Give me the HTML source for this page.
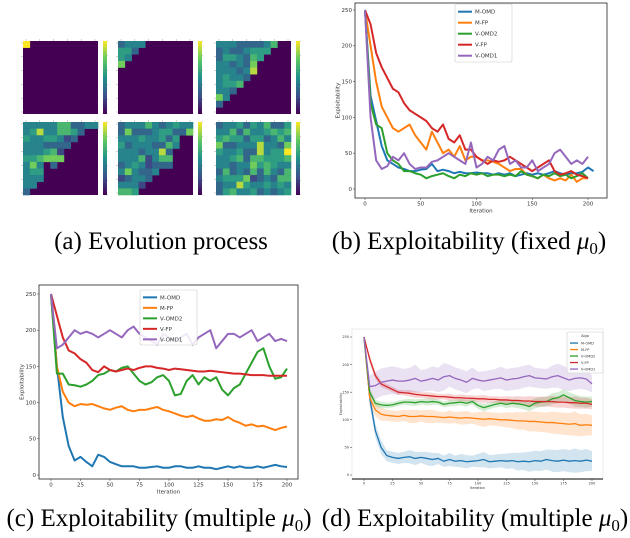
<!DOCTYPE html>
<html><head><meta charset="utf-8">
<style>
body{margin:0;background:#fff;}
svg{display:block;font-family:"DejaVu Sans","Liberation Sans",sans-serif;}
.cap{font-family:"Liberation Serif",serif;font-size:25px;fill:#000;}
</style></head><body>
<svg id="fig" width="630" height="538" viewBox="0 0 630 538">
<text class="cap" x="161" y="249" text-anchor="middle">(a) Evolution process</text>
<text class="cap" x="469" y="249" text-anchor="middle">(b) Exploitability (fixed <tspan font-style="italic">μ</tspan><tspan font-size="17" dy="5">0</tspan><tspan dy="-5">)</tspan></text>
<text class="cap" x="159" y="526" text-anchor="middle">(c) Exploitability (multiple <tspan font-style="italic">μ</tspan><tspan font-size="17" dy="5">0</tspan><tspan dy="-5">)</tspan></text>
<text class="cap" x="475" y="526" text-anchor="middle">(d) Exploitability (multiple <tspan font-style="italic">μ</tspan><tspan font-size="17" dy="5">0</tspan><tspan dy="-5">)</tspan></text>
</svg>
<script>
// ---------- data ----------
const seriesNames=["M-OMD","M-FP","V-OMD2","V-FP","V-OMD1"];
const colors=["#1f77b4","#ff7f0e","#2ca02c","#d62728","#9467bd"];
const xTicks=[0,50,100,150,200];
const xTicksC=[0,25,50,75,100,125,150,175,200];
const yTicks=[0,50,100,150,200,250];
// panel b (every 5 iterations)
const bMOMD=[250,130,95,60,40,35,30,28,25,25,27,28,35,25,27,25,22,24,22,22,23,22,22,20,22,20,22,18,20,22,20,22,20,22,25,22,20,22,22,24,30,25];
const bMFP=[250,200,150,115,100,85,80,85,90,75,65,55,80,65,50,55,45,60,40,45,45,40,40,38,35,30,25,28,28,20,18,15,20,15,12,15,12,20,10,15,15];
const bVOMD2=[250,120,90,85,50,40,35,25,25,22,20,15,18,20,22,18,15,20,18,22,20,22,18,20,20,18,20,18,25,20,18,15,20,18,22,18,20,15,18,22,15];
const bVFP=[250,230,190,170,155,140,135,120,110,105,100,95,85,80,90,70,65,75,55,55,45,40,35,40,38,40,45,40,35,30,25,30,35,40,25,20,22,25,20,18,15];
const bVOMD1=[250,100,40,28,32,45,40,50,35,28,30,30,38,40,45,50,45,40,35,65,30,35,45,40,55,60,35,40,30,30,40,25,30,35,50,55,45,35,40,35,45];
// panel c
const cMOMD=[250,150,80,40,20,25,18,12,28,25,18,15,12,12,12,10,10,11,12,10,10,12,12,10,10,12,10,10,8,10,12,10,12,10,10,12,10,12,14,12,11];
const cMFP=[250,150,115,100,95,98,97,98,95,92,90,93,95,90,88,90,90,92,94,90,88,85,82,80,82,78,75,75,77,76,80,75,72,68,70,67,68,65,62,65,67];
const cVOMD2=[250,140,140,125,124,122,125,130,138,140,145,143,148,150,140,130,125,128,135,138,130,110,112,130,138,125,135,130,135,118,110,120,125,140,155,170,175,150,133,135,147];
const cVFP=[250,220,190,172,168,160,155,145,142,150,145,143,145,147,145,148,150,150,148,147,145,147,146,145,144,143,143,144,143,142,141,140,140,139,138,138,138,137,137,137,137];
const cVOMD1=[250,175,180,190,200,195,198,195,190,195,200,195,190,200,205,195,190,185,180,195,190,185,190,195,180,190,195,200,175,185,195,195,190,195,200,185,190,195,185,188,185];
// panel d means and band half-widths
const dMOMD=[250,140,80,50,35,32,30,32,33,30,32,30,28,30,25,28,25,26,24,25,26,28,24,25,26,25,26,24,25,24,26,25,28,26,25,27,25,26,25,27,25];
const dMFP=[250,140,118,110,108,107,106,108,106,106,107,106,106,105,104,105,104,103,104,103,102,101,102,101,100,100,99,98,98,97,97,96,95,95,94,93,92,93,90,91,90];
const dVOMD2=[250,150,130,127,126,127,130,132,132,131,133,132,133,132,128,130,131,132,130,133,126,122,125,128,130,128,130,129,127,124,130,132,133,138,140,145,140,135,133,132,133];
const dVFP=[250,210,180,165,160,155,150,149,148,146,145,144,143,142,142,141,140,140,139,139,138,138,137,137,136,136,135,135,134,134,133,133,133,133,132,132,131,131,130,130,128];
const dVOMD1=[250,160,162,168,170,172,170,170,172,175,170,172,175,172,178,180,175,172,168,175,172,170,172,174,176,172,174,175,178,180,176,175,174,178,180,176,172,175,176,174,165];
const dBand=[0,15,12,12,10,10,10,10,12,12,10,12,12,10,10,12,10,12,12,10,12,14,12,12,12,14,14,16,16,18,18,18,18,20,20,20,20,22,20,20,18];
const dBandV1=[0,20,25,25,25,25,25,22,22,25,20,20,22,22,25,20,20,20,20,20,15,18,18,18,20,20,20,20,20,20,18,18,18,20,22,22,20,20,20,20,15];
// heatmaps (digits 0-9 intensity, 11x11)
const heat1=["90000000000","00000000000","00000000000","00000000000","00000000000","00000000000","00000000000","00000000000","00000000000","00000000000","00000000000"];
const heat2=["34440000000","5530000000","540000000","7000000000","0","0","0","0","0","0","0"];
const heat3=["44433334600","3433455500","3554365000","443437000","44434800","4544300","455600","44300","7400","30","0"];
const heat4=["44444663344","45844665300","5445542300","4443333000","4445620000","5567770000","4740300000","4550000000","4440000000","4400000000","3000000000"];
const heat5=["34446434544","37333455337","44454453500","53444336400","44434483000","44462466000","34542333000","47433400000","23443000000","44420000000","66500000000"];
const heat6=["34453546335","44636445656","56553553464","73344484437","54453384559","44563665556","44344756544","36343636436","45557234366","34485445454","35644534345"];
</script>
<script>
const NS="http://www.w3.org/2000/svg";
const svg=document.getElementById('fig');
function mk(tag,attrs,parent){const e=document.createElementNS(NS,tag);for(const k in attrs)e.setAttribute(k,attrs[k]);(parent||svg).appendChild(e);return e;}
function viridis(t){const st=[[68,1,84],[59,82,139],[33,145,140],[94,201,98],[253,231,37]];
 t=Math.max(0,Math.min(1,t));const s=t*4,i=Math.min(3,Math.floor(s)),f=s-i;
 const c=st[i].map((v,j)=>Math.round(v+(st[i+1][j]-v)*f));return `rgb(${c})`;}

// ---- heatmaps ----
const heats=[heat1,heat2,heat3,heat4,heat5,heat6];
const hpos=[[23,41],[118,41],[216,41],[23,122],[118,122],[216,122]];
heats.forEach((m,k)=>{
 const [x0,y0]=hpos[k],W=75,H=73,n=11,cw=W/n,ch=H/n;
 const g=mk('g',{});
 
 
 mk('rect',{x:x0,y:y0,width:W,height:H,fill:viridis(0)},g);
 m.forEach((row,r)=>{for(let c=0;c<row.length;c++){const v=+row[c];if(!v)continue;
  const cell=mk('rect',{x:x0+c*cw,y:y0+r*ch,width:cw+0.3,height:ch+0.3,fill:viridis(v/9)},g);
  
  }});
 const cb=mk('defs',{},g);const lg=mk('linearGradient',{id:'cb'+k,x1:0,y1:1,x2:0,y2:0},cb);
 [0,.25,.5,.75,1].forEach(o=>mk('stop',{offset:o,'stop-color':viridis(o)},lg));
 const bar=mk('rect',{x:x0+W+5,y:y0,width:4,height:H,fill:`url(#cb${k})`},g);
 
 
 for(let i=0;i<6;i++){mk('line',{x1:x0+W+9,x2:x0+W+10,y1:y0+i*H/5,y2:y0+i*H/5,stroke:'#888','stroke-width':.4},g);
  mk('line',{x1:x0-2,x2:x0,y1:y0+2+i*(H-4)/5,y2:y0+2+i*(H-4)/5,stroke:'#888','stroke-width':.4},g);
  mk('line',{x1:x0+3+i*(W-6)/5,x2:x0+3+i*(W-6)/5,y1:y0-2,y2:y0,stroke:'#888','stroke-width':.4},g);}
});

// ---- line panels ----
function panel(cfg){
 const g=mk('g',{});
 
 
 const X=v=>cfg.x0+(v-0)/(200)*(cfg.x200-cfg.x0);
 const Y=v=>cfg.y0+(v)/(250)*(cfg.y250-cfg.y0);
 const frame=mk('rect',{x:cfg.L,y:cfg.T,width:cfg.R-cfg.L,height:cfg.B-cfg.T,fill:'none',stroke:cfg.frame,'stroke-width':.8},g);
 
 
 if(cfg.bottomBlack)mk('line',{x1:cfg.L,x2:cfg.R,y1:cfg.B,y2:cfg.B,stroke:'#000','stroke-width':1},g);
 cfg.xt.forEach(t=>{mk('line',{x1:X(t),x2:X(t),y1:cfg.B,y2:cfg.B+2,stroke:'#333','stroke-width':.5},g);
  const tx=mk('text',{x:X(t),y:cfg.B+2+cfg.fs,'text-anchor':'middle','font-size':cfg.fs,fill:'#333'},g);tx.textContent=t;
  
  });
 yTicks.forEach(t=>{mk('line',{x1:cfg.L-2,x2:cfg.L,y1:Y(t),y2:Y(t),stroke:'#333','stroke-width':.5},g);
  const tx=mk('text',{x:cfg.L-3,y:Y(t)+cfg.fs*0.35,'text-anchor':'end','font-size':cfg.fs,fill:'#333'},g);tx.textContent=t;
  
  });
 const xl=mk('text',{x:(cfg.L+cfg.R)/2,y:cfg.B+2+cfg.fs*2.3,'text-anchor':'middle','font-size':cfg.fs,fill:'#333'},g);xl.textContent='Iteration';
 
 
 const yx=cfg.L-cfg.fs*2.8,yy=(cfg.T+cfg.B)/2;
 const yl=mk('text',{x:yx,y:yy,'text-anchor':'middle','font-size':cfg.fs,fill:'#333',transform:`rotate(-90 ${yx} ${yy})`},g);yl.textContent='Exploitability';
 
 
 if(cfg.bands)cfg.series.forEach((s,i)=>{const b=cfg.bands[i];
  const up=s.map((v,j)=>`${X(j*5)},${Y(v+b[j])}`),dn=s.map((v,j)=>`${X(j*5)},${Y(Math.max(0,v-b[j]))}`).reverse();
  const p=mk('polygon',{points:up.concat(dn).join(' '),fill:colors[i],'fill-opacity':.2},g);
  
  });
 cfg.series.forEach((s,i)=>{
  const pts=s.map((v,j)=>`${X(j*5)},${Y(v)}`).join(' ');
  const pl=mk('polyline',{points:pts,fill:'none',stroke:colors[i],'stroke-width':cfg.lw,'stroke-linejoin':'round'},g);
  
  });
 const lg=cfg.leg;
 const box=mk('rect',{x:lg.x,y:lg.y,width:lg.w,height:lg.h,fill:'#fff','fill-opacity':.85,stroke:'#ccc','stroke-width':.6,rx:1.5},g);
 
 
 let off=lg.title?lg.dy:0;
 if(lg.title){const tt=mk('text',{x:lg.x+lg.w/2,y:lg.y+lg.dy*0.8,'text-anchor':'middle','font-size':lg.fs,fill:'#333'},g);tt.textContent='Algo';}
 seriesNames.forEach((n,i)=>{const yy=lg.y+lg.dy*(i+0.7)+off;
  mk('line',{x1:lg.x+3,x2:lg.x+3+lg.ll,y1:yy,y2:yy,stroke:colors[i],'stroke-width':cfg.lw},g);
  const t=mk('text',{x:lg.x+6+lg.ll,y:yy+lg.fs*0.35,'font-size':lg.fs,fill:'#333'},g);t.textContent=n;
  
  });
}
panel({name:'chart-b',L:355,R:607,T:3,B:198,x0:365,x200:588,y0:189,y250:10,fs:5.5,lw:2,frame:'#222',xt:xTicks,
 series:[bMOMD,bMFP,bVOMD2,bVFP,bVOMD1],leg:{x:455,y:4,w:57,h:58,dy:11,fs:5.5,ll:14}});
panel({name:'chart-c',L:39,R:298,T:285,B:479,x0:51,x200:287,y0:475,y250:294,fs:5.5,lw:2,frame:'#222',xt:xTicksC,
 series:[cMOMD,cMFP,cVOMD2,cVFP,cVOMD1],leg:{x:140,y:290,w:57,h:55,dy:10.5,fs:5.5,ll:14}});
panel({name:'chart-d',L:352,R:603,T:329,B:479,x0:364,x200:592,y0:475,y250:337,fs:3.5,lw:1.3,frame:'#e6e6e6',bottomBlack:true,xt:xTicksC,
 series:[dMOMD,dMFP,dVOMD2,dVFP,dVOMD1],bands:[dBand,dBand,dBand.map(v=>v/2),dBand.map(v=>v/2),dBandV1],
 leg:{x:567,y:332,w:36,h:41,dy:6.5,fs:3.5,ll:8,title:true}});
</script>
</body></html>
